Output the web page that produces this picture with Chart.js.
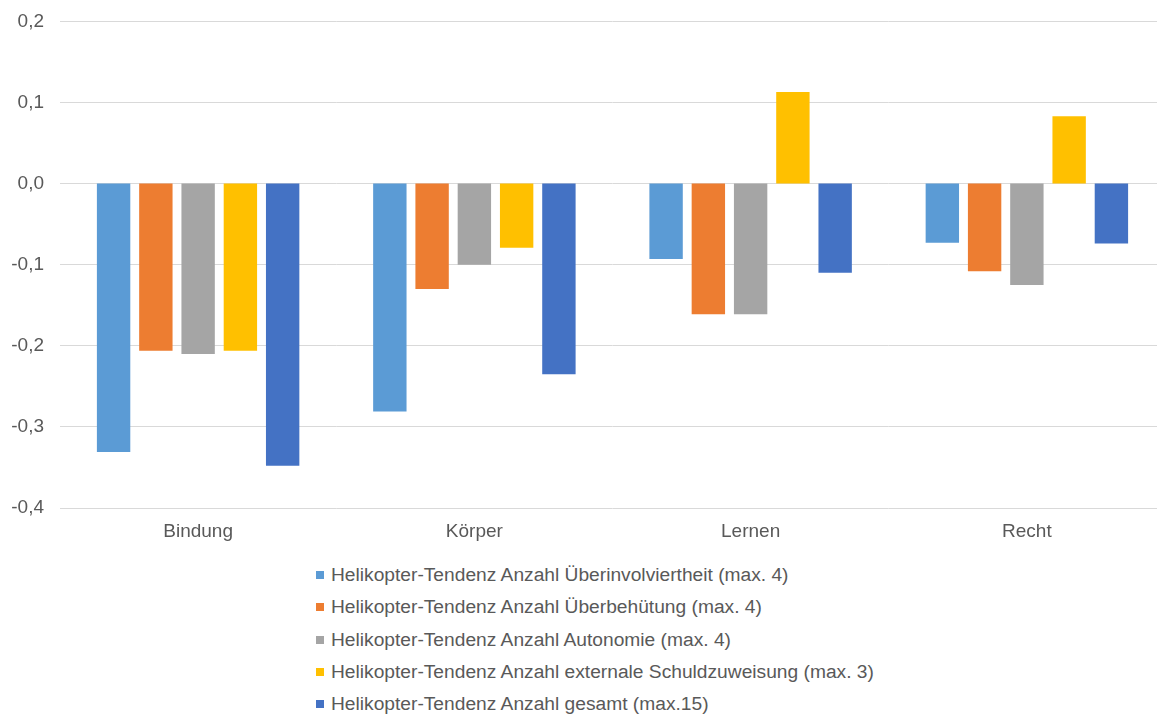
<!DOCTYPE html>
<html>
<head>
<meta charset="utf-8">
<script src="https://cdn.jsdelivr.net/npm/chart.js@4/dist/chart.umd.min.js"></script>
<style>
  html, body { margin: 0; padding: 0; background: #fff; overflow: hidden; }
  #wrap { position: relative; width: 1165px; height: 554px; margin-top: -6px; }
  #legend { position: absolute; left: 316px; top: 559px; font: 19.2px "Liberation Sans", Arial, sans-serif; color: #595959; }
  .lg-row { height: 32.3px; display: flex; align-items: center; white-space: nowrap; }
  .lg-box { width: 8px; height: 8px; margin-right: 7px; flex: none; }
</style>
</head>
<body>
<div id="wrap"><canvas id="chart"></canvas></div>
<div id="legend"></div>
<script>
// categories and series
const categories = ['Bindung', 'Körper', 'Lernen', 'Recht'];
const seriesNames = [
  'Helikopter-Tendenz Anzahl Überinvolviertheit (max. 4)',
  'Helikopter-Tendenz Anzahl Überbehütung (max. 4)',
  'Helikopter-Tendenz Anzahl Autonomie (max. 4)',
  'Helikopter-Tendenz Anzahl externale Schuldzuweisung (max. 3)',
  'Helikopter-Tendenz Anzahl gesamt (max.15)'
];
const ueberinvolviertheit = [-0.331, -0.281, -0.093, -0.073];
const ueberbehuetung = [-0.206, -0.130, -0.161, -0.108];
const autonomie = [-0.210, -0.100, -0.161, -0.125];
const schuldzuweisung = [-0.206, -0.079, 0.113, 0.083];
const gesamt = [-0.348, -0.235, -0.110, -0.074];
const colors = ['#5B9BD5', '#ED7D31', '#A5A5A5', '#FFC000', '#4472C4'];

const FONT = { family: '"Liberation Sans", Arial, sans-serif', size: 19 };
const seriesValues = [ueberinvolviertheit, ueberbehuetung, autonomie, schuldzuweisung, gesamt];

const chart = new Chart(document.getElementById('chart'), {
  type: 'bar',
  data: {
    labels: categories,
    datasets: seriesValues.map((vals, i) => ({
      label: seriesNames[i],
      data: vals,
      backgroundColor: colors[i],
      categoryPercentage: 0.765,
      barPercentage: 0.79,
    })),
  },
  options: {
    responsive: true, maintainAspectRatio: false, animation: false,
    layout: { padding: { top: 4, right: 0, bottom: 0, left: 0 } },
    plugins: { legend: { display: false }, tooltip: { enabled: false } },
    scales: {
      x: {
        grid: { display: false, drawTicks: false },
        border: { display: false },
        ticks: { color: '#595959', font: FONT, padding: 12 },
        afterFit: s => { s.height = 40; },
      },
      y: {
        min: -0.4, max: 0.2,
        grid: { color: '#d9d9d9', lineWidth: 1, drawTicks: false },
        border: { display: false },
        ticks: {
          stepSize: 0.1, color: '#595959', font: FONT, padding: 16,
          callback: v => v.toFixed(1).replace('.', ','),
        },
        afterFit: s => { s.width = 60; },
      },
    },
  },
});

document.getElementById('legend').innerHTML = chart.data.datasets.map(d => `
  <div class="lg-row"><span class="lg-box" style="background:${d.backgroundColor}"></span>${d.label}</div>`).join('');
</script>
</body>
</html>
